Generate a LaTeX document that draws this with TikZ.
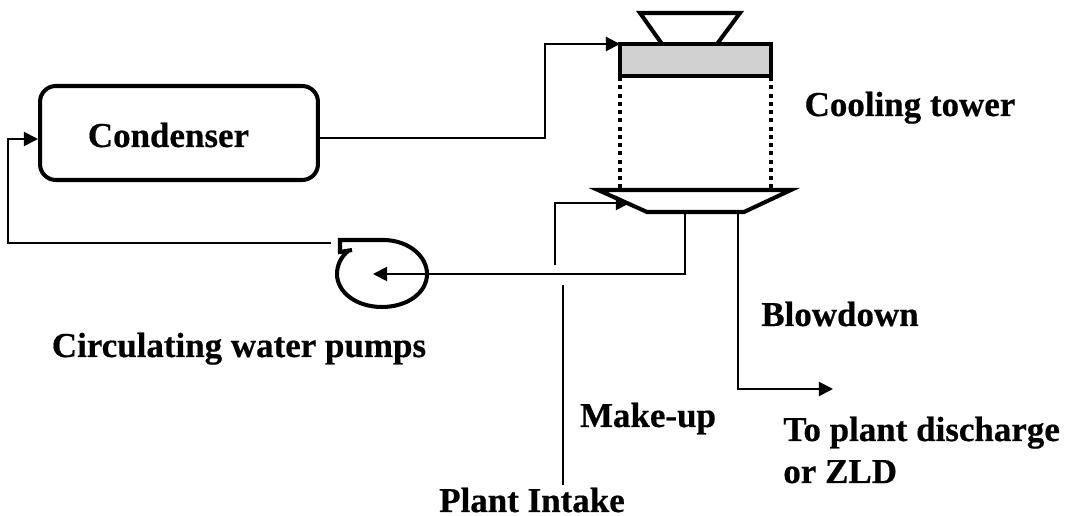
\documentclass[tikz,border=0pt]{standalone}
\usepackage{fontspec}
\setmainfont{Liberation Serif}[BoldFeatures={FakeBold=0.5}]
\usetikzlibrary{arrows.meta}
\tikzset{
  pipe/.style={line width=1.1pt, >={Triangle[length=8pt,width=8pt]}},
  equip/.style={line width=2.3pt, line join=miter},
  lab/.style={font=\fontsize{19.9pt}{23pt}\selectfont\bfseries, inner sep=0pt, anchor=base},
}
\begin{document}
\begin{tikzpicture}[x=0.02cm, y=-0.02cm]
\useasboundingbox (0,0) rectangle (1066,516);

% equipment
\node[equip, draw, rounded corners=9pt, minimum width=5.56cm, minimum height=1.88cm, outer sep=0pt] (condenser) at (179,133) {};
\node[equip, draw, fill=black!18, minimum width=3.02cm, minimum height=0.64cm, outer sep=0pt] (fill) at (695.5,60) {};
\draw[equip] (662,44) -- (640,13) -- (740,13) -- (717,44);
\coordinate (basinL) at (598,190);
\coordinate (basinR) at (791,190);
\coordinate (basinB) at (647,212);
\coordinate (basinC) at (744,212);
\draw[equip] (basinL) -- (basinR) -- (basinC) -- (basinB) -- cycle;
\foreach \a in {620,771} {\draw[line width=2.3pt, dash pattern=on 2.3pt off 2.4pt] (\a,77) -- (\a,188);}

% pump
\draw[equip] (352,250) -- (340,252) -- (340,240) -- (385,240)
  .. controls (410,241) and (427,257) .. (427,274)
  .. controls (427,293) and (407,307) .. (382,307)
  .. controls (356,307) and (337,292) .. (337,274)
  .. controls (337,265) and (341,257) .. (348,251);
\coordinate (pumpC) at (373,274);
\coordinate (pumpOut) at (331,243);

% pipes
\coordinate (condOut) at (318,138);
\coordinate (condIn) at (38,139);
\coordinate (makeUpa) at (555,265);
\coordinate (makeUpb) at (630,203);
\coordinate (intake) at (563,285);
\coordinate (intakeb) at (563,485);
\coordinate (basinOut) at (685,212);
\coordinate (blowOut) at (738,212);
\coordinate (blowEnd) at (833,389);
\draw[pipe,->] (condOut) -- (545,138) -- (545,44) -- (fill.north west);
\draw[pipe,->] (pumpOut) -- (8,243) -- (8,139) -- (condIn);
\draw[pipe,->] (basinOut) -- (685,274) -- (pumpC);
\draw[pipe,->] (makeUpa) -- (555,203) -- (makeUpb);
\draw[pipe] (intake) -- (intakeb);
\draw[pipe,->] (blowOut) -- (738,389) -- (blowEnd);

% labels
\node[lab] (lCondenser) at (168.5,147) {Condenser};
\node[lab] (lTower) at (910,116) {Cooling tower};
\node[lab] (lBlow) at (840,326) {Blowdown};
\node[lab] (lPumps) at (239,357) {Circulating water pumps};
\node[lab] (lMake) at (648,427) {Make-up};
\node[lab, anchor=base west] (lDisch) at (783,441) {To plant discharge};
\node[lab, anchor=base west] (lZld) at (783,483) {or ZLD};
\node[lab] (lIntake) at (532,512) {Plant Intake};

\end{tikzpicture}
\end{document}
